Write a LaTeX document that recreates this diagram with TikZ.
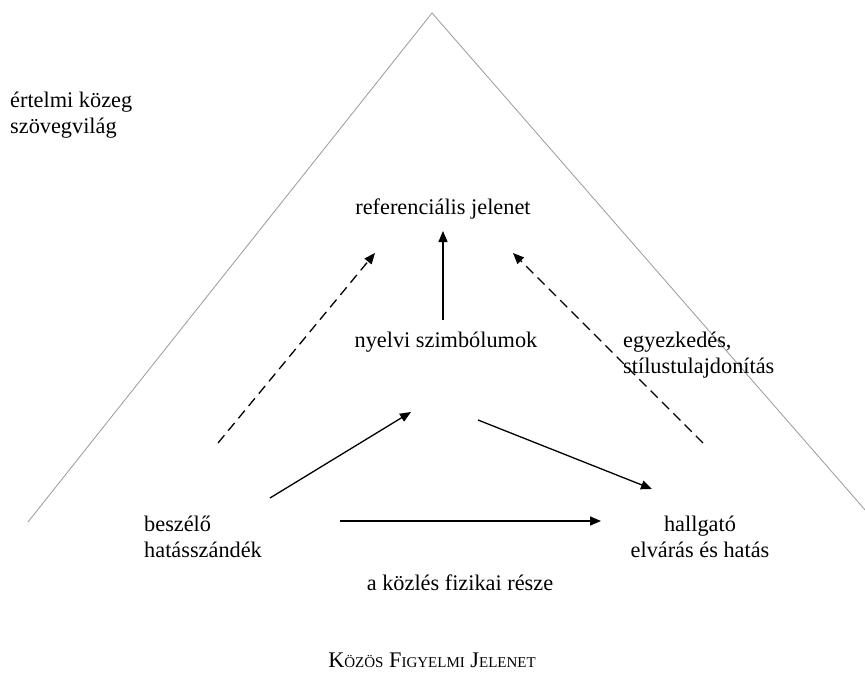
\documentclass[tikz,border=0pt]{standalone}
\usepackage{fontspec}
\setmainfont{Liberation Serif}
\usetikzlibrary{arrows.meta}
\begin{document}
\begin{tikzpicture}[x=1pt,y=-1pt,
  lbl/.style={inner sep=0pt, font=\fontsize{22.3}{26}\selectfont},
  frame/.style={draw=black!40, line width=0.8pt},
  conn/.style={draw=black, line width=1.3pt, -{Triangle[length=11pt,width=9pt]}},
  dconn/.style={conn, dash pattern=on 10pt off 6pt}]
\useasboundingbox (0,0) rectangle (865,674);
% triangle frame
\coordinate (apex) at (432,13);
\coordinate (bl) at (28,522);
\coordinate (br) at (866,511);
\draw[frame] (bl) -- (apex) -- (br);
% texts (base anchor of a multi-line node = last line)
\node[lbl, anchor=base west, align=left] (kozeg) at (10,134) {értelmi közeg\\szövegvilág};
\node[lbl, anchor=base] (ref) at (443,214) {referenciális jelenet};
\node[lbl, anchor=base] (nyelv) at (446,347) {nyelvi szimbólumok};
\node[lbl, anchor=base west, align=left] (egyez) at (623,373) {egyezkedés,\\stílustulajdonítás};
\node[lbl, anchor=base west, align=left] (besz) at (144,557) {beszélő\\hatásszándék};
\node[lbl, anchor=base, align=center] (hall) at (700,557) {hallgató\\elvárás és hatás};
\node[lbl, anchor=base] (fiz) at (460,590) {a közlés fizikai része};
\node[lbl, anchor=base] (cim) at (432,667) {K{\fontsize{15}{18}\selectfont ÖZÖS} F{\fontsize{15}{18}\selectfont IGYELMI} J{\fontsize{15}{18}\selectfont ELENET}};
% connector ends
\coordinate (a1s) at (218,443); \coordinate (a1e) at (375,253);
\coordinate (a2s) at (443,320); \coordinate (a2e) at (443,231);
\coordinate (a3s) at (703,443); \coordinate (a3e) at (513,253);
\coordinate (a4s) at (270,498); \coordinate (a4e) at (411,412);
\coordinate (a5s) at (478,420); \coordinate (a5e) at (652,489);
\coordinate (a6s) at (340,521); \coordinate (a6e) at (601,521);
\draw[dconn] (a1s) -- (a1e);
\draw[conn] (a2s) -- (a2e);
\draw[dconn] (a3s) -- (a3e);
\draw[conn] (a4s) -- (a4e);
\draw[conn] (a5s) -- (a5e);
\draw[conn] (a6s) -- (a6e);
\end{tikzpicture}
\end{document}
